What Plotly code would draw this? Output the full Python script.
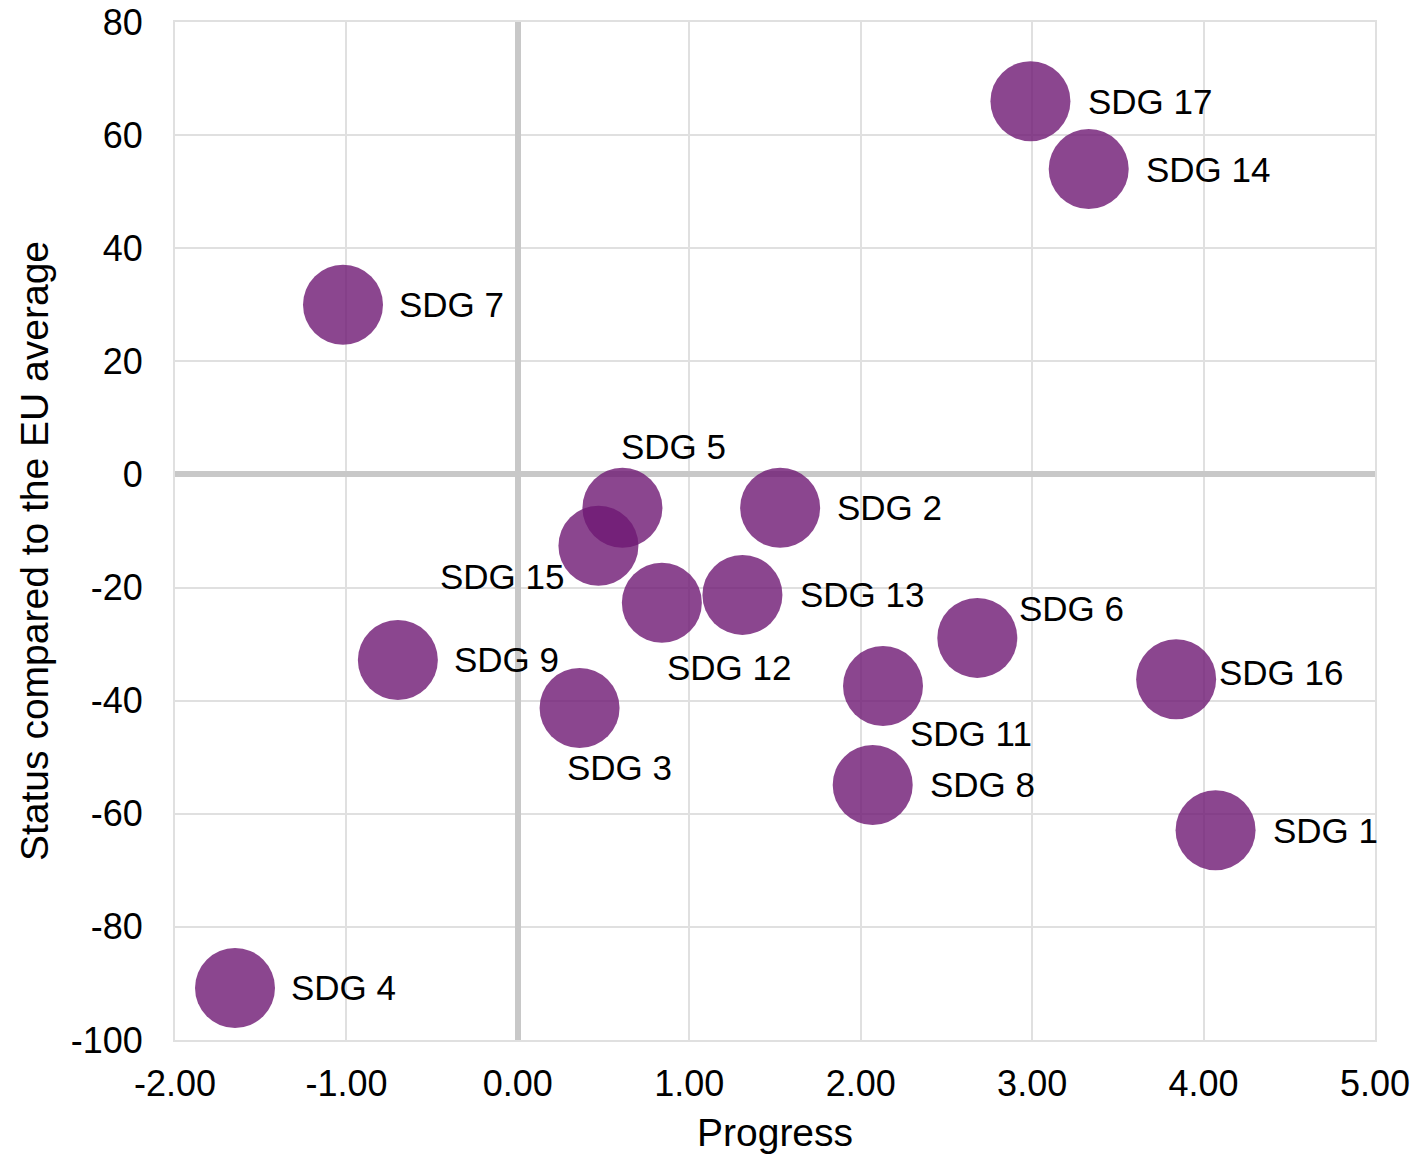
import plotly.graph_objects as go

# SDG scores: progress vs. status relative to the EU average
goals = ["SDG 17", "SDG 14", "SDG 7", "SDG 5", "SDG 2", "SDG 15", "SDG 12", "SDG 13",
         "SDG 6", "SDG 9", "SDG 16", "SDG 11", "SDG 3", "SDG 8", "SDG 1", "SDG 4"]
progress = [2.99, 3.33, -1.02, 0.61, 1.53, 0.47, 0.84, 1.31,
            2.68, -0.70, 3.84, 2.13, 0.36, 2.07, 4.07, -1.65]
status = [66.0, 54.0, 30.0, -5.9, -5.9, -12.6, -22.7, -21.3,
          -28.9, -32.8, -36.2, -37.4, -41.3, -54.9, -62.9, -90.8]

x_ticks = [-2, -1, 0, 1, 2, 3, 4, 5]
x_tick_labels = ["-2.00", "-1.00", "0.00", "1.00", "2.00", "3.00", "4.00", "5.00"]
y_ticks = [-100, -80, -60, -40, -20, 0, 20, 40, 60, 80]
y_tick_labels = ["-100", "-80", "-60", "-40", "-20", "0", "20", "40", "60", "80"]

# label placement around each bubble: (xanchor, xshift, yshift)
label_place = {
    "SDG 17": ("left", 56, 0), "SDG 14": ("left", 55, 0), "SDG 7": ("left", 54, 0),
    "SDG 5": ("center", 51, 61), "SDG 2": ("left", 55, 0), "SDG 15": ("right", -31, -31),
    "SDG 12": ("left", 3, -65), "SDG 13": ("left", 56, 0), "SDG 6": ("left", 40, 29),
    "SDG 9": ("left", 54, 0), "SDG 16": ("left", 41, 7), "SDG 11": ("left", 25, -48),
    "SDG 3": ("center", 40, -59), "SDG 8": ("left", 55, 0), "SDG 1": ("left", 55, 0),
    "SDG 4": ("left", 54, 0),
}

FONT = "Arial, 'Liberation Sans', sans-serif"
LABEL_FS = 35
TICK_FS = 36
TITLE_FS = 39
GRID = "#E0E0E0"

fig = go.Figure()
fig.add_trace(go.Scatter(
    x=progress, y=status, mode="markers",
    marker=dict(size=80, color="rgb(110,24,115)", opacity=0.8, line=dict(width=0)),
    hovertext=goals, hoverinfo="text+x+y", showlegend=False,
))

for g, xv, yv in zip(goals, progress, status):
    anchor, dx, dy = label_place[g]
    fig.add_annotation(x=xv, y=yv, text=g, showarrow=False, xanchor=anchor, yanchor="middle",
                       xshift=dx, yshift=dy, font=dict(family=FONT, size=LABEL_FS, color="black"))

# axis titles
fig.add_annotation(x=0.5, y=0, xref="paper", yref="paper", yanchor="middle", yshift=-92,
                   text="Progress", showarrow=False,
                   font=dict(family=FONT, size=TITLE_FS, color="black"))
fig.add_annotation(x=0, y=0.5, xref="paper", yref="paper", xanchor="center",
                   xshift=-141, yshift=-20, textangle=-90,
                   text="Status compared to the EU average", showarrow=False,
                   font=dict(family=FONT, size=TITLE_FS, color="black"))

fig.update_layout(
    width=1417, height=1154,
    margin=dict(l=175, r=42, t=22, b=114, autoexpand=False),
    paper_bgcolor="white", plot_bgcolor="white",
    font=dict(family=FONT, size=TICK_FS, color="black"),
)
fig.update_xaxes(
    range=[-2, 5], tickvals=x_ticks, ticktext=x_tick_labels, automargin=False,
    showgrid=True, gridcolor=GRID, gridwidth=2,
    zeroline=True, zerolinecolor="#C8C8C8", zerolinewidth=6,
    showline=True, linecolor=GRID, linewidth=2, mirror=True, ticks="",
    ticklabelstandoff=11, ticklabeloverflow="allow",
)
fig.update_yaxes(
    range=[-100, 80], tickvals=y_ticks, ticktext=y_tick_labels, automargin=False,
    showgrid=True, gridcolor=GRID, gridwidth=2,
    zeroline=True, zerolinecolor="#C8C8C8", zerolinewidth=6,
    showline=True, linecolor=GRID, linewidth=2, mirror=True, ticks="",
    ticklabelstandoff=23, ticklabeloverflow="allow",
)

fig.write_html("out.html")
